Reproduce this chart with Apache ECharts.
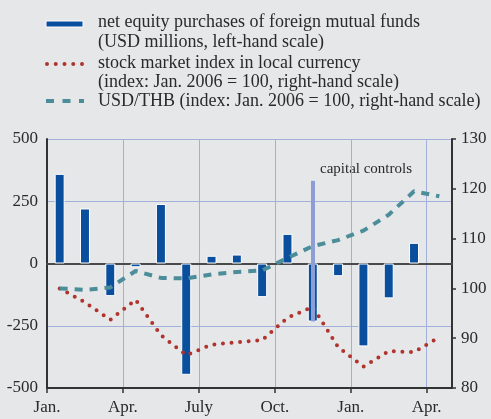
<!DOCTYPE html>
<html>
<head>
<meta charset="utf-8">
<script src="https://cdn.jsdelivr.net/npm/echarts@6/dist/echarts.min.js"></script>
<style>
  html, body { margin: 0; padding: 0; background: #e6e7e9; }
  #chart { width: 491px; height: 419px; }
</style>
</head>
<body>
<div id="chart"></div>
<script>
// monthly data, Jan. 2006 - Apr. 2007
const months = ['Jan 06', 'Feb 06', 'Mar 06', 'Apr 06', 'May 06', 'Jun 06', 'Jul 06', 'Aug 06',
  'Sep 06', 'Oct 06', 'Nov 06', 'Dec 06', 'Jan 07', 'Feb 07', 'Mar 07', 'Apr 07'];
// net equity purchases of foreign mutual funds, USD millions (left scale)
const fundFlows = [360, 221, -131, -15, 239, -447, 31, 36, -135, 119, -233, -51, -333, -140, 83, null];
// stock market index in local currency, Jan. 2006 = 100 (right scale)
const stockIndex = [100, 97.2, 93.7, 97.7, 90.6, 86.6, 88.7, 89.2, 89.6, 94.1, 96.3, 88.2, 84.3, 87.4, 87.2, 90.2];
// USD/THB, Jan. 2006 = 100 (right scale)
const usdThb = [100, 99.7, 100.2, 103.5, 102.1, 102.0, 102.8, 103.3, 103.6, 106.1, 108.5, 109.7, 111.6, 114.8, 119.5, 118.5];
// quarter labels, at month index 0, 3, 6, ...
const quarterLabels = ['Jan.', 'Apr.', 'July', 'Oct.', 'Jan.', 'Apr.'];
const quarterTicks = [0, 3, 6, 9, 12, 15];
// capital controls marker: month index and span on left scale
const capitalControls = { month: 10, top: 332, bottom: -233 };

const FONT = 'Liberation Serif';
const TXT = '#2a2a2a';
const GRIDC = '#a3afdb';
const BLUE = '#0a4f9e';
const RED = '#b0342d';
const TEAL = '#4b8d99';

const chart = echarts.init(document.getElementById('chart'));

const legendText = (y, text) => ({
  type: 'text',
  style: { x: 98, y: y, text: text, font: '18px "' + FONT + '"', fill: TXT, verticalAlign: 'middle', textVerticalAlign: 'middle' }
});

const option = {
  backgroundColor: '#e6e7e9',
  animation: false,
  grid: { left: 47, right: 39, top: 139, bottom: 31 },
  xAxis: [
    {
      type: 'category',
      data: months,
      position: 'bottom',
      boundaryGap: true,
      axisLine: { show: true, onZero: true, lineStyle: { color: '#4a4a4a', width: 2 } },
      axisTick: { show: false },
      axisLabel: { show: false },
      splitLine: { show: false }
    },
    {
      type: 'value',
      position: 'bottom',
      min: 0,
      max: 16,
      interval: 3,
      axisLine: { show: true, onZero: false, lineStyle: { color: '#333', width: 2 } },
      axisTick: { show: true, length: 5, customValues: quarterTicks, lineStyle: { color: '#333', width: 1.5 } },
      axisLabel: {
        fontFamily: FONT, fontSize: 17, color: TXT, margin: 11,
        formatter: v => (v % 3 === 0 && quarterLabels[v / 3]) || ''
      },
      splitLine: { show: true, lineStyle: { color: GRIDC, width: 1 } }
    }
  ],
  yAxis: [
    {
      type: 'value',
      min: -500,
      max: 500,
      interval: 250,
      axisLine: { show: true, lineStyle: { color: '#333', width: 2 } },
      axisTick: { show: false },
      axisLabel: { fontFamily: FONT, fontSize: 17, color: TXT, margin: 9 },
      splitLine: { show: true, lineStyle: { color: GRIDC, width: 1 } }
    },
    {
      type: 'value',
      min: 80,
      max: 130,
      interval: 10,
      position: 'right',
      axisLine: { show: true, lineStyle: { color: '#333', width: 2 } },
      axisTick: { show: true, length: 4, lineStyle: { color: '#333', width: 1.5 } },
      axisLabel: { fontFamily: FONT, fontSize: 17, color: TXT, margin: 9 },
      splitLine: { show: false }
    }
  ],
  series: [
    {
      name: 'net equity purchases of foreign mutual funds',
      type: 'bar',
      xAxisIndex: 0,
      yAxisIndex: 0,
      data: fundFlows,
      barWidth: 10,
      itemStyle: { color: BLUE, borderColor: '#ffffff', borderWidth: 1 },
      markLine: {
        silent: true,
        symbol: 'none',
        label: { show: false },
        lineStyle: { color: '#8d9ed6', width: 4, type: 'solid' },
        data: [[
          { coord: [capitalControls.month, capitalControls.top] },
          { coord: [capitalControls.month, capitalControls.bottom] }
        ]]
      }
    },
    {
      name: 'stock market index in local currency',
      type: 'line',
      xAxisIndex: 0,
      yAxisIndex: 1,
      data: stockIndex,
      symbol: 'none',
      lineStyle: { color: RED, width: 4, type: [0, 8.6], cap: 'round' }
    },
    {
      name: 'USD/THB',
      type: 'line',
      xAxisIndex: 0,
      yAxisIndex: 1,
      data: usdThb,
      symbol: 'none',
      lineStyle: { color: TEAL, width: 4, type: [8, 7], cap: 'butt' }
    }
  ],
  graphic: [
    { type: 'rect', shape: { x: 46, y: 21, width: 37, height: 6 }, style: { fill: BLUE, stroke: '#ffffff', lineWidth: 1 } },
    { type: 'line', shape: { x1: 47, y1: 64, x2: 83, y2: 64 }, style: { stroke: RED, lineWidth: 4, lineDash: [0, 8.75], lineCap: 'round' } },
    { type: 'line', shape: { x1: 46, y1: 101, x2: 84, y2: 101 }, style: { stroke: TEAL, lineWidth: 4, lineDash: [8, 8.5] } },
    legendText(22, 'net equity purchases of foreign mutual funds'),
    legendText(42, '(USD millions, left-hand scale)'),
    legendText(63, 'stock market index in local currency'),
    legendText(82, '(index: Jan. 2006 = 100, right-hand scale)'),
    legendText(101, 'USD/THB (index: Jan. 2006 = 100, right-hand scale)'),
    {
      type: 'text',
      style: { x: 366, y: 169, text: 'capital controls', font: '15px "' + FONT + '"', fill: TXT,
        align: 'center', textAlign: 'center', verticalAlign: 'middle', textVerticalAlign: 'middle' }
    }
  ]
};

chart.setOption(option);
window.addEventListener('resize', () => chart.resize());
</script>
</body>
</html>
